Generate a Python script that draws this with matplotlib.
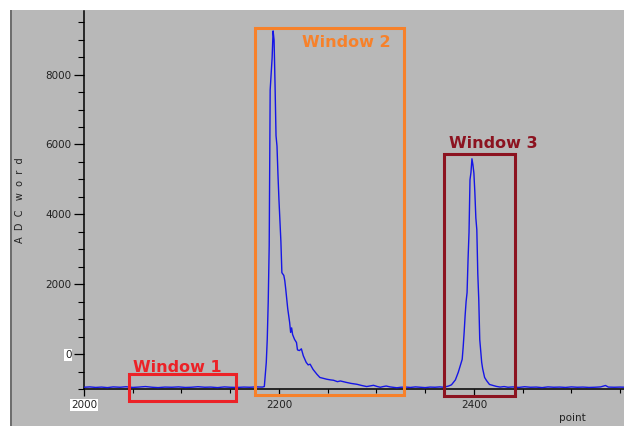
import matplotlib
matplotlib.use("Agg")
from matplotlib import pyplot as plt
from matplotlib.patches import Rectangle
from matplotlib.ticker import MultipleLocator

# sampled trace: sample point vs ADC word
point = [2000, 2006, 2012, 2018, 2024, 2030, 2037, 2043, 2050, 2056, 2063, 2070,
         2076, 2083, 2090, 2097, 2104, 2110, 2117, 2124, 2130, 2137, 2144, 2150,
         2157, 2164, 2170, 2177, 2183,
         2185, 2186, 2187, 2188, 2189, 2190, 2191, 2192, 2193, 2194, 2195, 2196,
         2197, 2198, 2199, 2200, 2201, 2202, 2203, 2205, 2206, 2207, 2208, 2209,
         2210, 2211, 2212, 2213, 2214, 2216, 2218, 2219, 2221, 2223, 2225, 2228,
         2230, 2232, 2235, 2239, 2242, 2246, 2249, 2253, 2256, 2260, 2263, 2266,
         2269, 2274, 2280, 2285, 2290, 2294, 2297, 2301, 2304, 2307, 2310, 2314,
         2318, 2321,
         2325, 2330, 2335, 2340, 2345, 2350, 2355, 2360, 2365, 2369,
         2372, 2374, 2377, 2379, 2381, 2384, 2386, 2388, 2389, 2390, 2391, 2392,
         2393, 2394, 2395, 2396, 2397, 2398, 2399, 2400, 2401, 2402, 2403, 2404,
         2405, 2406, 2407, 2408, 2409, 2411, 2413, 2416, 2420, 2423, 2427, 2431,
         2435, 2440, 2446, 2452, 2458, 2464, 2470, 2476, 2482, 2488, 2494, 2500,
         2506, 2512, 2518, 2524, 2530, 2535, 2538, 2544, 2550, 2556]
adc = [-950, -940, -955, -945, -960, -940, -950, -935, -955, -945, -930, -950,
       -960, -945, -950, -940, -955, -950, -935, -950, -945, -960, -940, -950,
       -955, -945, -950, -940, -945,
       -930, -600, -240, 420, 1500, 3100, 7560, 8000, 8480, 9250, 8990, 7700,
       6250, 5950, 5130, 4420, 3800, 3220, 2330, 2250, 2100, 1850, 1560, 1300,
       1100, 900, 620, 750, 560, 420, 330, 120, 100, 150, -50, -240,
       -310, -290, -440, -580, -670, -700, -720, -740, -750, -790, -770, -790,
       -810, -840, -865, -900, -930, -910, -895, -930, -950, -930, -915, -940,
       -955, -965,
       -950, -945, -955, -940, -950, -960, -945, -950, -940, -950,
       -930, -915, -880, -810, -740, -520, -330, -150, 200, 620, 1100, 1500,
       1760, 2700, 3480, 4990, 5200, 5590, 5420, 5180, 4620, 3900, 3560, 2300,
       1560, 420, 100, -240, -420, -670, -760, -870, -900, -925, -945, -930,
       -950, -940, -955, -935, -950, -945, -960, -940, -950, -945, -955, -940,
       -950, -945, -955, -950, -940, -900, -945, -950, -945, -950]

# integration windows: x range and y range in data units
window_names = ["Window 1", "Window 2", "Window 3"]
window_x = [(2046, 2156), (2175, 2328), (2369, 2442)]
window_y = [(-1350, -580), (-1180, 9330), (-1210, 5730)]
window_text_xy = [(2050, -520), (2224, 8790), (2374, 5900)]
window_colors = ["#ec2227", "#f7812a", "#8c1320"]

W, H = 624, 426
fig = plt.figure(figsize=(W / 100, H / 100), dpi=100, facecolor="white")

# grey panel behind everything, white strip on top and left
fig.patches.append(Rectangle((10 / W, 0), 1, 416 / H, transform=fig.transFigure,
                             facecolor="#b8b8b8", edgecolor="none", zorder=-2))
fig.patches.append(Rectangle((10 / W, 0), 1.5 / W, 416 / H, transform=fig.transFigure,
                             facecolor="#6e6e6e", edgecolor="none", zorder=-1))

ax = fig.add_axes([84 / W, (H - 389) / H, (W - 84) / W, (389 - 11) / H])
ax.set_facecolor("none")
ax.plot(point, adc, color="#1515e6", lw=1.0, zorder=3)

ax.set_xlim(2000, 2554)
ax.set_ylim(-1000, 9820)

ax.spines["top"].set_visible(False)
ax.spines["right"].set_visible(False)
ax.spines["left"].set_linewidth(1.1)
ax.spines["bottom"].set_linewidth(1.1)

ax.set_xticks([2000, 2200, 2400])
ax.set_yticks([0, 2000, 4000, 6000, 8000])
ax.xaxis.set_minor_locator(MultipleLocator(50))
ax.yaxis.set_minor_locator(MultipleLocator(500))
ax.tick_params(axis="both", which="major", labelsize=7.5, colors="black",
               labelcolor="#222222", width=0.9)
ax.tick_params(axis="x", which="major", length=5, pad=3)
ax.tick_params(axis="y", which="major", length=7, pad=2)
ax.tick_params(axis="x", which="minor", length=3, width=0.8)
ax.tick_params(axis="y", which="minor", length=4, width=0.8)

ax.get_xticklabels()[0].set_bbox(dict(facecolor="white", edgecolor="none", pad=0.6))
ax.get_yticklabels()[0].set_bbox(dict(facecolor="white", edgecolor="none", pad=0.6))

for name, (x0, x1), (y0, y1), (tx, ty), c in zip(window_names, window_x, window_y,
                                                 window_text_xy, window_colors):
    ax.add_patch(Rectangle((x0, y0), x1 - x0, y1 - y0, fill=False, edgecolor=c,
                           lw=2.2, clip_on=False, zorder=4))
    ax.text(tx, ty, name, color=c, fontsize=11.5, fontweight="bold",
            family="DejaVu Sans", ha="left", va="baseline", zorder=5)

fig.text(20 / W, 1 - 200 / H, "A  D  C   w  o  r  d", rotation=90, fontsize=7,
         color="#222222", ha="center", va="center")
fig.text(572 / W, 1 - 418 / H, "point", fontsize=7.5, color="#222222",
         ha="center", va="center")

fig.savefig("out.png", dpi=100, facecolor="white")
